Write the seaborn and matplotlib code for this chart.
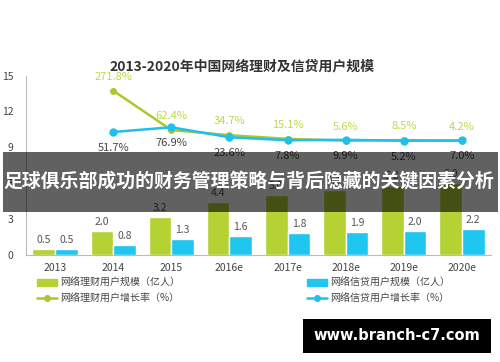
import numpy as np
import pandas as pd
import seaborn as sns
import matplotlib.pyplot as plt
from matplotlib.patches import Patch, Rectangle
from matplotlib.lines import Line2D

years = ['2013', '2014', '2015', '2016e', '2017e', '2018e', '2019e', '2020e']
licai_users = [0.5, 2.0, 3.2, 4.4, 5.0, 5.4, 5.8, 6.0]
xindai_users = [0.5, 0.8, 1.3, 1.6, 1.8, 1.9, 2.0, 2.2]

growth_years = ['2014', '2015', '2016e', '2017e', '2018e', '2019e', '2020e']
licai_growth = [271.8, 62.4, 34.7, 15.1, 5.6, 8.5, 4.2]
xindai_growth = [51.7, 76.9, 23.6, 7.8, 9.9, 5.2, 7.0]

bar_names = ['网络理财用户规模（亿人）', '网络信贷用户规模（亿人）']
line_names = ['网络理财用户增长率（%）', '网络信贷用户增长率（%）']
title = '2013-2020年中国网络理财及信贷用户规模'
banner = '足球俱乐部成功的财务管理策略与背后隐藏的关键因素分析'
watermark = 'www.branch-c7.com'

green = '#b4d234'
blue = '#1fc6f0'
green_line = '#a9c92c'
blue_line = '#1ec0ec'

sns.set_style('white')
plt.rcParams['font.family'] = ['Noto Sans CJK SC', 'DejaVu Sans']

df = pd.DataFrame({
    'year': years * 2,
    'value': licai_users + xindai_users,
    'kind': [bar_names[0]] * len(years) + [bar_names[1]] * len(years),
})

fig = plt.figure(figsize=(5, 3.62), dpi=100)
ax = fig.add_axes([26 / 500, 1 - 255 / 362, 465 / 500, 179.5 / 362])

sns.barplot(data=df, x='year', y='value', hue='kind', order=years,
            palette=[green, blue], width=0.78, saturation=1, ax=ax, legend=False)
for cont in ax.containers:
    ax.bar_label(cont, fmt='%.1f', padding=3, fontsize=7.5, color='#555555')

ax.set_xlim(-0.5, 7.5)
ax.set_ylim(0, 15)
ax.set_yticks([0, 3, 6, 9, 12, 15])
ax.set_xlabel('')
ax.set_ylabel('')
ax.tick_params(axis='y', length=0, pad=9, labelsize=7.5, labelcolor='#444444')
ax.tick_params(axis='x', length=0, pad=6, labelsize=7.5, labelcolor='#444444')
for s in ['top', 'right']:
    ax.spines[s].set_visible(False)
ax.spines['left'].set_color('#bbbbbb')
ax.spines['bottom'].set_color('#bbbbbb')

# growth rates on a hidden second axis
ax2 = ax.twinx()
gx = [years.index(y) for y in growth_years]
sns.lineplot(x=gx, y=licai_growth, ax=ax2, color=green_line, marker='o',
             markersize=5, markeredgewidth=0, linewidth=1.8)
sns.lineplot(x=gx, y=xindai_growth, ax=ax2, color=blue_line, marker='o',
             markersize=6, markeredgewidth=0, linewidth=1.8)
ax2.set_ylim(-603.6, 352.7)
ax2.set_xlim(-0.5, 7.5)
ax2.axis('off')

for x, v in zip(gx, licai_growth):
    ax2.annotate(f'{v}%', (x, v), xytext=(0, 10), textcoords='offset points',
                 ha='center', va='center', fontsize=8, color='#bcd84c')
for x, v in zip(gx, xindai_growth):
    ax2.annotate(f'{v}%', (x, v), xytext=(0, -11.5), textcoords='offset points',
                 ha='center', va='center', fontsize=8, color='#444444')

fig.text(0.483, 1 - 66 / 362, title, ha='center', va='center',
         fontsize=10, fontweight='bold', color='#333333')

h1 = [Patch(color=green), Line2D([], [], color=green_line, marker='o', markersize=4, lw=1.8)]
h2 = [Patch(color=blue), Line2D([], [], color=blue_line, marker='o', markersize=4, lw=1.8)]
for hs, labs, x0 in [(h1, [bar_names[0], line_names[0]], 37),
                     (h2, [bar_names[1], line_names[1]], 307)]:
    fig.legend(hs, labs, loc='upper left', bbox_to_anchor=(x0 / 500, 1 - 278 / 362),
               frameon=False, fontsize=7.2, handlelength=2.0, handleheight=0.6,
               handletextpad=0.3, labelspacing=0.5, borderpad=0, borderaxespad=0,
               labelcolor='#444444')

# overlay banner and watermark
fig.add_artist(Rectangle((3 / 500, 1 - 212 / 362), 495 / 500, 60 / 362,
                         transform=fig.transFigure, color='black', alpha=0.62,
                         lw=0, zorder=10))
fig.text(3 / 500, 1 - 182 / 362, banner, ha='left', va='center', fontsize=13.6,
         fontweight='bold', color='white', zorder=11)
fig.add_artist(Rectangle((303 / 500, 1 - 353 / 362), 188 / 500, 34 / 362,
                         transform=fig.transFigure, color='black', lw=0, zorder=10))
fig.text(397 / 500, 1 - 336 / 362, watermark, ha='center', va='center',
         fontsize=10.5, fontweight='bold', color='white', family='DejaVu Sans', zorder=11)

fig.savefig('out.png', dpi=100)
